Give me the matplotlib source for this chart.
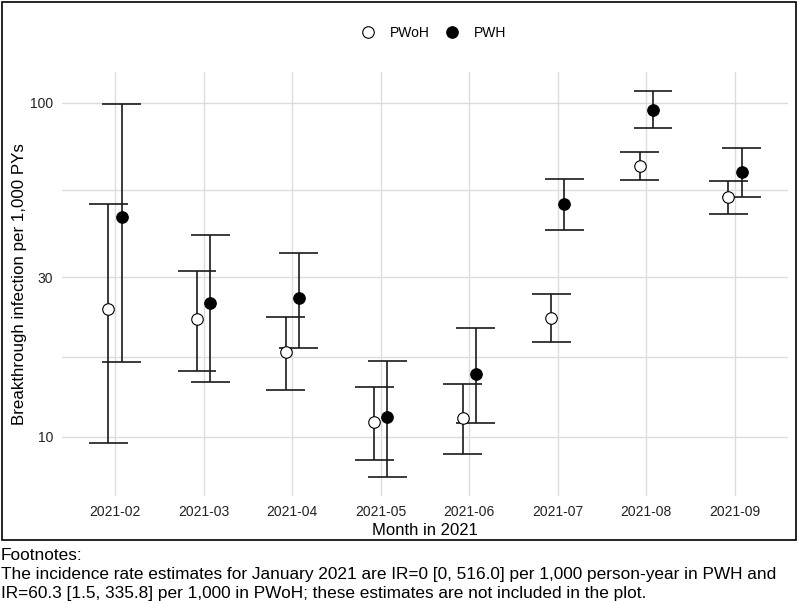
import numpy as np
import matplotlib
matplotlib.use("Agg")
import matplotlib.pyplot as plt
from matplotlib.lines import Line2D
from matplotlib.patches import Rectangle

plt.rcParams['font.family'] = ['Liberation Sans', 'DejaVu Sans']

months = ["2021-02", "2021-03", "2021-04", "2021-05", "2021-06", "2021-07", "2021-08", "2021-09"]

pwoh_ir = [24.1, 22.6, 17.9, 11.1, 11.4, 22.7, 64.7, 52.2]
pwoh_lo = [9.6, 15.7, 13.8, 8.5, 8.9, 19.2, 58.6, 46.4]
pwoh_hi = [49.6, 31.4, 22.9, 14.1, 14.4, 26.7, 71.1, 58.2]

pwh_ir = [45.5, 25.1, 26.0, 11.5, 15.4, 49.6, 95.1, 61.8]
pwh_lo = [16.7, 14.6, 18.5, 7.6, 11.0, 41.6, 84.0, 52.2]
pwh_hi = [98.8, 40.1, 35.5, 16.9, 21.1, 58.9, 108.1, 72.9]

y_ticks = [10, 30, 100]

fig = plt.figure(figsize=(7.99, 6.01), dpi=100)
ax = fig.add_axes([62/799, 1-496/601, (788-62)/799, (496-72)/601])

x = np.arange(1, len(months) + 1)
dodge = 0.075
cap = 0.22
lc = '#1a1a1a'
lw = 1.2

for offs, ir, lo, hi, face in [(-dodge, pwoh_ir, pwoh_lo, pwoh_hi, 'white'),
                               (dodge, pwh_ir, pwh_lo, pwh_hi, 'black')]:
    xs = x + offs
    ax.vlines(xs, lo, hi, color=lc, lw=lw, zorder=3)
    ax.hlines(lo, xs - cap, xs + cap, color=lc, lw=lw, zorder=3)
    ax.hlines(hi, xs - cap, xs + cap, color=lc, lw=lw, zorder=3)
    ax.plot(xs, ir, 'o', ms=8.3, mfc=face, mec='black', mew=0.8, zorder=4, ls='none')

ax.set_yscale('log')
allv = np.array(pwoh_lo + pwoh_hi + pwh_lo + pwh_hi)
lmin, lmax = np.log10(allv.min()), np.log10(allv.max())
e = 0.05 * (lmax - lmin)
ax.set_ylim(10**(lmin - e), 10**(lmax + e))
ax.set_xlim(0.4, len(months) + 0.6)

ax.set_yticks(y_ticks)
ax.set_yticklabels([str(t) for t in y_ticks])
ax.yaxis.set_minor_locator(matplotlib.ticker.FixedLocator([np.sqrt(10*30), np.sqrt(30*100)]))
ax.yaxis.set_minor_formatter(matplotlib.ticker.NullFormatter())
ax.set_xticks(x)
ax.set_xticklabels(months)

ax.grid(True, which='major', color='#dcdcdc', lw=1.0)
ax.grid(True, which='minor', axis='y', color='#dcdcdc', lw=1.0)
ax.set_axisbelow(True)
for s in ax.spines.values():
    s.set_visible(False)
ax.tick_params(which='both', length=0)
ax.tick_params(axis='x', labelsize=10, pad=6.5, colors='#222222')
ax.tick_params(axis='y', labelsize=10, pad=6.5, colors='#222222')

ax.set_xlabel("Month in 2021", fontsize=12, labelpad=3, color='black')
ax.set_ylabel("Breakthrough infection per 1,000 PYs", fontsize=12.2, color='black')
ax.yaxis.set_label_coords((27 - 62) / 726, 0.5)

handles = [Line2D([], [], marker='o', ls='none', ms=8.3, mfc='white', mec='black', mew=0.8),
           Line2D([], [], marker='o', ls='none', ms=8.3, mfc='black', mec='black', mew=0.8)]
fig.legend(handles, ["PWoH", "PWH"], loc='center', bbox_to_anchor=(433.5/799, 1-33/601),
           ncol=2, frameon=False, fontsize=10, handlelength=1.0,
           handletextpad=1.08, columnspacing=1.08)

fig.patches.append(Rectangle((1.5/799, 1-539.5/601), (795.5-1.5)/799, (539.5-1.5)/601,
                             transform=fig.transFigure, fill=False, ec='black', lw=1.2))

foot_lines = ["Footnotes:",
              "The incidence rate estimates for January 2021 are IR=0 [0, 516.0] per 1,000 person-year in PWH and",
              "IR=60.3 [1.5, 335.8] per 1,000 in PWoH; these estimates are not included in the plot."]
for i, line in enumerate(foot_lines):
    fig.text(1/799, 1-(560 + 19*i)/601, line, fontsize=12.4, va='baseline', ha='left')

fig.savefig("out.png", dpi=100)
